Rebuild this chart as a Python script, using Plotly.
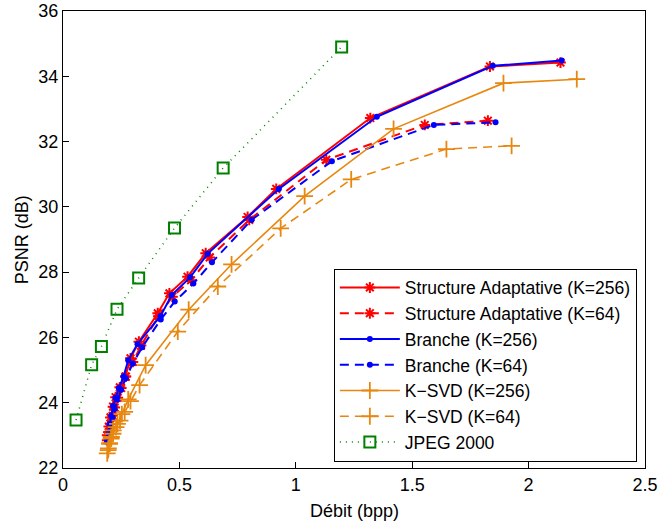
import plotly.graph_objects as go

# ---- data ----
sa256_x = [0.19, 0.197, 0.204, 0.215, 0.226, 0.244, 0.268, 0.29, 0.326, 0.407, 0.457, 0.535, 0.613, 0.793, 0.916, 1.32, 1.834, 2.137]
sa256_y = [23.0, 23.27, 23.55, 23.88, 24.17, 24.47, 24.8, 25.36, 25.87, 26.74, 27.35, 27.86, 28.58, 29.69, 30.55, 32.72, 34.3, 34.42]

sa64_x = [0.19, 0.197, 0.205, 0.213, 0.222, 0.235, 0.25, 0.27, 0.3, 0.335, 0.41, 0.47, 0.55, 0.63, 0.8, 1.131, 1.554, 1.825]
sa64_y = [22.85, 23.1, 23.35, 23.6, 23.85, 24.15, 24.45, 24.8, 25.25, 25.75, 26.65, 27.25, 27.75, 28.45, 29.6, 31.44, 32.51, 32.64]

br256_x = [0.19, 0.195, 0.2, 0.207, 0.215, 0.225, 0.24, 0.26, 0.28, 0.32, 0.419, 0.467, 0.546, 0.621, 0.927, 1.348, 1.846, 2.142]
br256_y = [22.85, 23.1, 23.35, 23.6, 23.9, 24.15, 24.45, 24.8, 25.3, 25.8, 26.66, 27.3, 27.84, 28.56, 30.55, 32.76, 34.32, 34.48]

br64_x = [0.19, 0.197, 0.205, 0.213, 0.222, 0.235, 0.25, 0.27, 0.3, 0.34, 0.42, 0.48, 0.56, 0.64, 0.81, 1.155, 1.593, 1.858]
br64_y = [22.8, 23.05, 23.3, 23.55, 23.8, 24.1, 24.4, 24.75, 25.2, 25.7, 26.55, 27.1, 27.65, 28.3, 29.6, 31.4, 32.51, 32.59]

ks256_x = [0.194, 0.2, 0.208, 0.216, 0.234, 0.253, 0.28, 0.355, 0.54, 0.724, 1.038, 1.42, 1.892, 2.207]
ks256_y = [22.55, 22.75, 22.95, 23.15, 23.35, 23.65, 24.1, 25.15, 26.85, 28.24, 30.33, 32.39, 33.79, 33.91]

ks64_x = [0.19, 0.195, 0.2, 0.207, 0.215, 0.228, 0.245, 0.265, 0.29, 0.329, 0.493, 0.665, 0.935, 1.238, 1.647, 1.927]
ks64_y = [22.45, 22.6, 22.75, 22.9, 23.05, 23.25, 23.45, 23.72, 24.05, 24.54, 26.18, 27.56, 29.34, 30.84, 31.77, 31.87]

jp_x = [0.056, 0.123, 0.165, 0.232, 0.325, 0.479, 0.688, 1.197]
jp_y = [23.47, 25.16, 25.72, 26.86, 27.82, 29.35, 31.19, 34.9]

x_ticks = [0, 0.5, 1, 1.5, 2, 2.5]
x_tick_text = ["0", "0.5", "1", "1.5", "2", "2.5"]
y_ticks = [22, 24, 26, 28, 30, 32, 34, 36]

x_title = "Débit (bpp)"
y_title = "PSNR (dB)"

names = ["Structure Adaptative (K=256)", "Structure Adaptative (K=64)",
         "Branche (K=256)", "Branche (K=64)",
         "K\u2212SVD (K=256)", "K\u2212SVD (K=64)", "JPEG 2000"]

RED = "#ff0000"
BLUE = "#0000ff"
ORANGE = "#e8870f"
GREEN = "#008000"
DASH = "9px,6px"

fig = go.Figure()

def add(x, y, name, color, dash, symbol, size, lw, mlw, group):
    fig.add_trace(go.Scatter(
        x=x, y=y, name=name, mode="lines+markers",
        legendgroup=group,
        line=dict(color=color, width=lw, dash=dash),
        marker=dict(symbol=symbol, size=size, color=color,
                    line=dict(color=color, width=mlw)),
    ))

add(sa256_x, sa256_y, names[0], RED, "solid", "asterisk-open", 9, 2, 2, "g0")
add(sa64_x, sa64_y, names[1], RED, DASH, "asterisk-open", 9, 2, 2, "g1")
add(br256_x, br256_y, names[2], BLUE, "solid", "circle", 6, 2, 0, "g2")
add(br64_x, br64_y, names[3], BLUE, DASH, "circle", 6, 2, 0, "g3")
add(ks256_x, ks256_y, names[4], ORANGE, "solid", "cross-thin-open", 12, 1.6, 1.8, "g4")
add(ks64_x, ks64_y, names[5], ORANGE, DASH, "cross-thin-open", 12, 1.6, 1.8, "g5")
add(jp_x, jp_y, names[6], GREEN, "1px,5px", "square-open", 11, 1.5, 2, "g6")

FONT = "Liberation Sans, Arial, Helvetica, sans-serif"
FS = 18

axis_common = dict(
    showline=True, mirror=True, linecolor="black", linewidth=1,
    ticks="inside", ticklen=6, tickcolor="black", tickwidth=1,
    showgrid=False, zeroline=False, automargin=False,
    ticklabeloverflow="allow",
    tickfont=dict(family=FONT, size=FS, color="black"),
)

fig.update_layout(
    width=658, height=521,
    margin=dict(l=63, r=13, t=11, b=53),
    paper_bgcolor="white", plot_bgcolor="white",
    font=dict(family=FONT, size=FS, color="black"),
    xaxis=dict(range=[0, 2.50001], tickvals=x_ticks, ticktext=x_tick_text,
               **axis_common),
    yaxis=dict(range=[22, 36.00001], tickvals=y_ticks,
               **axis_common),
    legend=dict(x=0.986, y=0.014, xanchor="right", yanchor="bottom",
                bgcolor="white", bordercolor="black", borderwidth=1,
                font=dict(family=FONT, size=17.5, color="black"),
                itemwidth=60,
                tracegroupgap=0, traceorder="grouped"),
    showlegend=True,
    annotations=[
        dict(text=x_title, xref="paper", yref="paper", x=0.5, y=-0.067,
             xanchor="center", yanchor="top", showarrow=False,
             font=dict(family=FONT, size=FS, color="black")),
        dict(text=y_title, xref="paper", yref="paper", x=-0.071, y=0.5,
             xanchor="center", yanchor="middle", textangle=-90, showarrow=False,
             font=dict(family=FONT, size=FS, color="black")),
    ],
)

fig.write_html("out.html", config={"displayModeBar": False},
               post_script="document.body.style.margin='0px';document.body.style.padding='0px';")
